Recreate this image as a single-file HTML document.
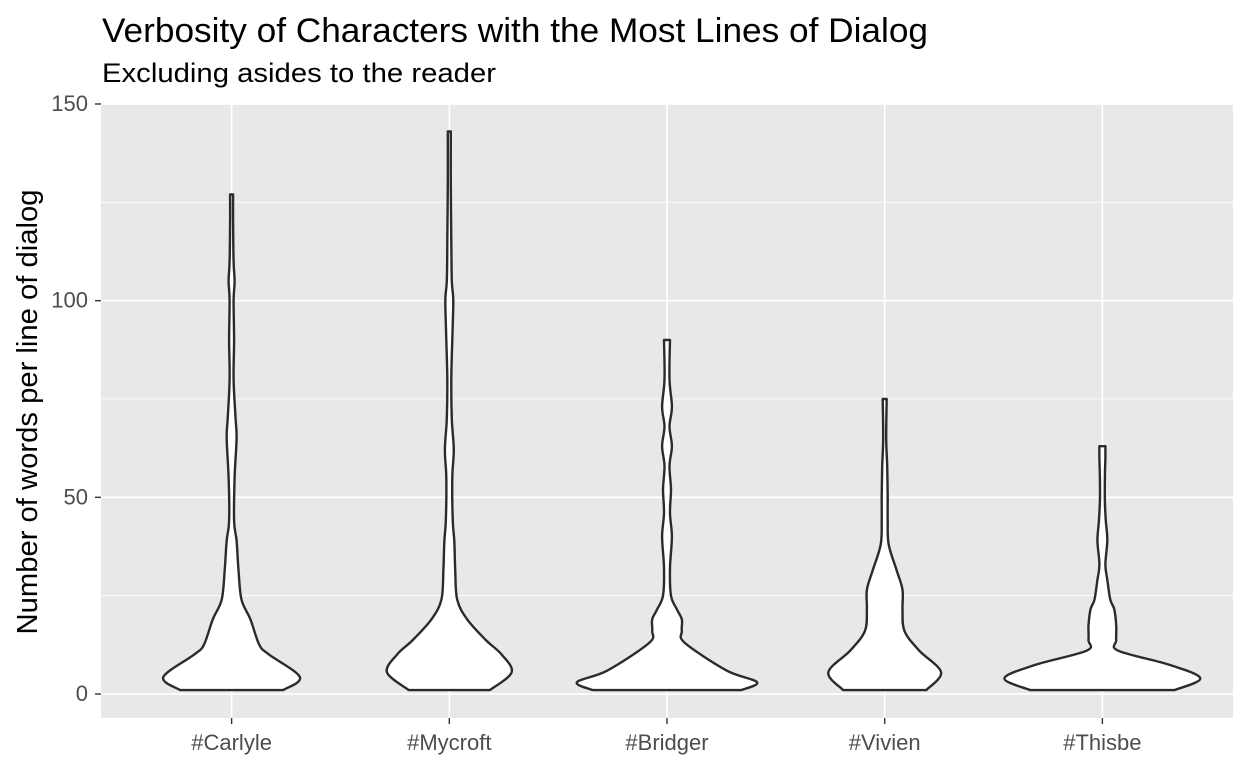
<!DOCTYPE html>
<html><head><meta charset="utf-8"><style>
body{margin:0;background:#fff;}
svg{display:block;font-family:"Liberation Sans",Arial,sans-serif;}
</style></head><body>
<svg id="c" width="1248" height="768" viewBox="0 0 1248 768">
<text x="102" y="42" font-size="34" textLength="826" lengthAdjust="spacingAndGlyphs" fill="#000">Verbosity of Characters with the Most Lines of Dialog</text>
<text x="102" y="82" font-size="27" textLength="394" lengthAdjust="spacingAndGlyphs" fill="#000">Excluding asides to the reader</text>
<rect x="101" y="103" width="1132" height="615" fill="#e8e8e8"/>
<g id="grid"></g><g id="violins"></g><g id="axes"></g>
<text transform="translate(37,412) rotate(-90)" text-anchor="middle" font-size="29" textLength="445" lengthAdjust="spacingAndGlyphs" fill="#000">Number of words per line of dialog</text>
</svg>
<script>
const categories=["#Carlyle","#Mycroft","#Bridger","#Vivien","#Thisbe"];
const yTicks=[0,50,100,150];
const yMinor=[25,75,125];
const carlyleVals=[1,4.3,10,12.5,19,24,31.5,39,44,55,65,70,80,90,100,105,110,120,127];
const carlyleDens=[52,69,38,28,19,10,7,5,2.5,3,5,4,2,2.5,2,3,2,1.5,1.5];
const mycroftVals=[1,5.5,10,13.7,19,24,31.5,39,44,55,62,70,80,90,100,105,115,130,143];
const mycroftDens=[41,63,53,37,18,8,6,5,3.5,3,4.5,2.5,2,3,4,2.5,2,1.5,1.5];
const bridgerVals=[1,3,6,13,16,19,21.5,25,32,40,46,52,58,63,68,73,80,90];
const bridgerDens=[75,91,60,18,15,15,10,4,3,5,3,4,2.5,5,2.5,5,2.5,3];
const vivienVals=[1,5.5,11,16,21.5,26.5,31.5,38,44,50,58,65,75];
const vivienDens=[42,57,35,20,18,18,12,4,3,3,2.5,1.5,2];
const thisbeVals=[1,4,7.4,11,13.7,17.5,21.5,24,29,33,39,44,49,55,60,63];
const thisbeDens=[73,99,68,16,14,14,12,8,5,3,5,3.5,2.5,2.5,3,3];
const seriesVals=[carlyleVals,mycroftVals,bridgerVals,vivienVals,thisbeVals];
const seriesDens=[carlyleDens,mycroftDens,bridgerDens,vivienDens,thisbeDens];

const NS="http://www.w3.org/2000/svg";
const px0=101,px1=1233,py0=103,py1=718;
const yScale=v=>694-(v-0)*(694-104)/150;
const n=categories.length;
const band=(px1-px0)/(n-1+1.2);
const xScale=i=>px0+band*(i+0.6);
let maxD=0;seriesDens.forEach(a=>a.forEach(d=>{if(d>maxD)maxD=d;}));
const wScale=d=>d/maxD*band*0.45;
function mk(tag,attrs,parent){const e=document.createElementNS(NS,tag);for(const k in attrs)e.setAttribute(k,attrs[k]);parent.appendChild(e);return e;}
const grid=document.getElementById('grid'),vg=document.getElementById('violins'),ax=document.getElementById('axes');
yMinor.forEach(v=>{const l=mk('line',{x1:px0,x2:px1,y1:yScale(v),y2:yScale(v),stroke:'#fff','stroke-width':0.8},grid);

});
yTicks.forEach(v=>{const y=yScale(v);
const l=mk('line',{x1:px0,x2:px1,y1:y,y2:y,stroke:'#fff','stroke-width':1.7},grid);


const t=mk('line',{x1:95,x2:101,y1:y,y2:y,stroke:'#333','stroke-width':1.4},ax);


const tx=mk('text',{x:88,y:y+7,'text-anchor':'end','font-size':22,fill:'#4d4d4d'},ax);tx.textContent=v;

});
categories.forEach((c,i)=>{const x=xScale(i);
const l=mk('line',{x1:x,x2:x,y1:py0,y2:py1,stroke:'#fff','stroke-width':1.7},grid);


const t=mk('line',{x1:x,x2:x,y1:py1,y2:py1+6,stroke:'#333','stroke-width':1.4},ax);


const tx=mk('text',{x:x,y:750,'text-anchor':'middle','font-size':22,fill:'#4d4d4d'},ax);tx.textContent=c;

});
function spline(pts){let d='';for(let i=0;i<pts.length-1;i++){const p0=pts[Math.max(i-1,0)],p1=pts[i],p2=pts[i+1],p3=pts[Math.min(i+2,pts.length-1)];
const c1=[p1[0]+(p2[0]-p0[0])/6,p1[1]+(p2[1]-p0[1])/6],c2=[p2[0]-(p3[0]-p1[0])/6,p2[1]-(p3[1]-p1[1])/6];
d+=` C${c1[0].toFixed(1)},${c1[1].toFixed(1)} ${c2[0].toFixed(1)},${c2[1].toFixed(1)} ${p2[0].toFixed(1)},${p2[1].toFixed(1)}`;}return d;}
categories.forEach((c,i)=>{const cx=xScale(i),vals=seriesVals[i],dens=seriesDens[i];
const right=vals.map((v,k)=>[cx+wScale(dens[k]),yScale(v)]);
const left=vals.map((v,k)=>[cx-wScale(dens[k]),yScale(v)]).reverse();
let d=`M${right[0][0].toFixed(1)},${right[0][1].toFixed(1)}`+spline(right)+` L${left[0][0].toFixed(1)},${left[0][1].toFixed(1)}`+spline(left)+' Z';
const p=mk('path',{d:d,fill:'#fff',stroke:'#2b2b2b','stroke-width':2.4,'stroke-linejoin':'round'},vg);

});
</script>
</body></html>
